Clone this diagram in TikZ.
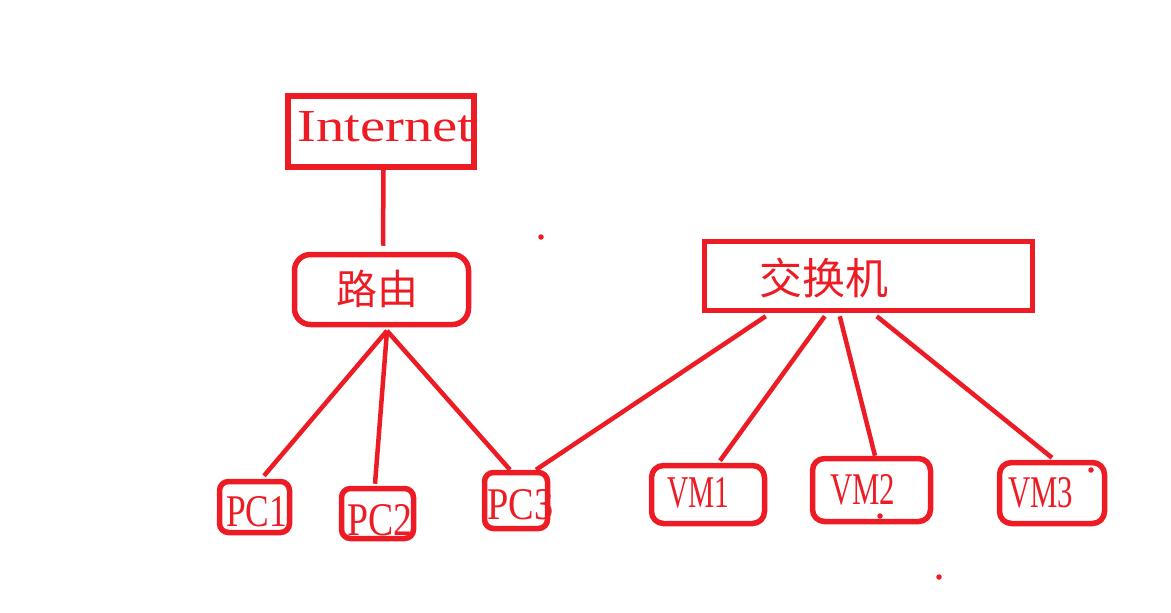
\documentclass[tikz,border=0pt]{standalone}
\usepackage{fontspec}
\usepackage{graphicx}
\setmainfont{Liberation Serif}
\newfontfamily\cjk{Noto Sans CJK SC}
\usetikzlibrary{calc}
\definecolor{pred}{HTML}{ED1C24}
\tikzset{
  sqbox/.style={draw=pred, line width=5.5pt, rectangle, inner sep=0pt},
  rbox/.style={draw=pred, line width=5.5pt, rectangle, rounded corners=#1, inner sep=0pt},
  rbox/.default=10pt,
  lab/.style={text=pred, inner sep=0pt, anchor=south west},
  cjklab/.style={text=pred, inner sep=0pt, font=\cjk},
  wire/.style={draw=pred, line width=4.5pt},
  speck/.style={fill=pred, circle, inner sep=0pt, minimum size=5.5pt}
}
\begin{document}
\begin{tikzpicture}[x=1pt,y=-1pt]
\useasboundingbox (0,0) rectangle (1171,613);
% boxes
\node[sqbox, minimum width=186pt, minimum height=71pt] (inet) at (381,131.5) {};
\node[rbox=16pt, minimum width=174pt, minimum height=70pt] (router) at (381.5,289.5) {};
\node[sqbox, minimum width=328pt, minimum height=69pt] (switch) at (868.5,276) {};
\node[rbox=9pt, minimum width=70pt, minimum height=51pt] (pc1) at (254.5,507) {};
\node[rbox=9pt, minimum width=72pt, minimum height=50pt] (pc2) at (377.5,513.5) {};
\node[rbox=9pt, minimum width=63pt, minimum height=56pt] (pc3) at (516,500.5) {};
\node[rbox=12pt, minimum width=113pt, minimum height=58pt] (vm1) at (708,494.5) {};
\node[rbox=12pt, minimum width=118pt, minimum height=63pt] (vm2) at (871.5,490) {};
\node[rbox=12pt, minimum width=105pt, minimum height=61pt] (vm3) at (1052,493) {};
% labels
\node[lab] (tinet) at (297,142) {\resizebox{176pt}{30pt}{Internet}};
\node[lab] (tpc1) at (226,527) {\resizebox{61pt}{30pt}{PC1}};
\node[lab] (tpc2) at (347,536) {\resizebox{65pt}{31pt}{PC2}};
\node[lab] (tpc3) at (487,520) {\resizebox{66pt}{30pt}{PC3}};
\node[lab] (tvm1) at (667,508) {\resizebox{62pt}{30pt}{VM1}};
\node[lab] (tvm2) at (830,505) {\resizebox{65pt}{30pt}{VM2}};
\node[lab] (tvm3) at (1008,508) {\resizebox{65pt}{30pt}{VM3}};
\node[cjklab, font=\cjk\fontsize{41pt}{41pt}\selectfont] (trouter) at (377,288.5) {路由};
\node[cjklab, font=\cjk\fontsize{43pt}{43pt}\selectfont] (tswitch) at (823.5,278) {交换机};
% connectors
\coordinate (inetdown) at ($(inet.south)+(2.5,0)$);
\coordinate (routerup) at ($(router.north)+(1.5,-6)$);
\draw[wire] (inetdown) -- (routerup);
\coordinate (fan) at ($(router.south)+(5.5,3.5)$);
\coordinate (pc1in) at ($(pc1.north)+(9.5,-3)$);
\coordinate (pc2in) at ($(pc2.north)+(-2.5,-2)$);
\coordinate (pc3in) at ($(pc3.north)+(-6,0)$);
\draw[wire] (fan) -- (pc1in);
\draw[wire] (fan) -- (pc2in);
\draw[wire] (fan) -- (pc3in);
\coordinate (s1) at ($(switch.south west)+(64,3)$);
\coordinate (s2) at ($(switch.south west)+(123,3)$);
\coordinate (s3) at ($(switch.south west)+(138,3)$);
\coordinate (s4) at ($(switch.south west)+(175,3)$);
\coordinate (pc3sw) at ($(pc3.north)+(20,0)$);
\coordinate (vm1in) at ($(vm1.north)+(12,-2)$);
\coordinate (vm2in) at ($(vm2.north)+(3.5,0)$);
\coordinate (vm3in) at ($(vm3.north)+(0,-2)$);
\draw[wire] (s1) -- (pc3sw);
\draw[wire] (s2) -- (vm1in);
\draw[wire] (s3) -- (vm2in);
\draw[wire] (s4) -- (vm3in);
% specks
\node[speck] (d1) at (541,237) {};
\node[speck] (d2) at (1091,470) {};
\node[speck] (d3) at (880,516) {};
\node[speck] (d4) at (939,577) {};
\end{tikzpicture}
\end{document}
